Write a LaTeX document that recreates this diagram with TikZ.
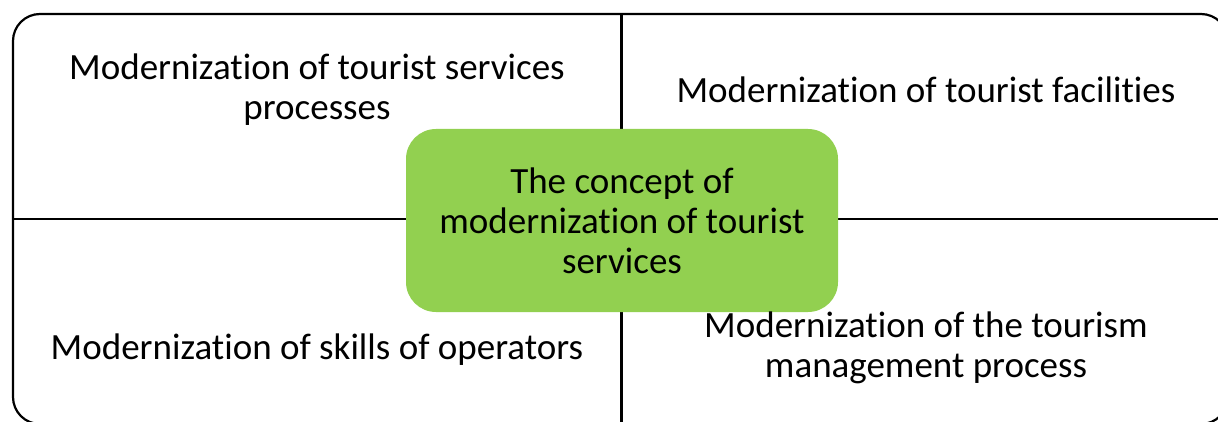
\documentclass[tikz,border=0pt]{standalone}
\usepackage{fontspec}
\setmainfont{Carlito}[Ligatures=NoCommon]
\begin{document}
\begin{tikzpicture}[x=1pt,y=-1pt,
  quadtext/.style={align=center,font=\fontsize{37}{40}\selectfont,inner sep=0pt},
  core/.style={draw=none,rounded corners=30pt,
    minimum width=432pt,minimum height=183pt,align=center,
    font=\fontsize{37}{40}\selectfont,inner sep=0pt}]
  \definecolor{leaf}{HTML}{92D050}
  \useasboundingbox (0,0) rectangle (1218,422);
  \begin{scope}
    \clip (0,0) rectangle (1218,422);
    % outer frame, partly running off the page
    \draw[line width=2.2pt,rounded corners=27pt] (13,14) rectangle (1228,424);
    % quadrant dividers
    \draw[line width=3pt] (621,14) -- (621,424);
    \draw[line width=2.2pt] (13,219) -- (1228,219);
  \end{scope}
  % centre node
  \node[core,fill=leaf] (c) at (622,220.5)
    {The concept of\\modernization of tourist\\services};
  % quadrant texts
  \node[quadtext] (tl) at (317,90) {Modernization of tourist services\\processes};
  \node[quadtext] (tr) at (926,90) {Modernization of tourist facilities};
  \node[quadtext] (bl) at (317,350) {Modernization of skills of operators};
  \node[quadtext] (br) at (926,348) {Modernization of the tourism\\management process};
\end{tikzpicture}
\end{document}
